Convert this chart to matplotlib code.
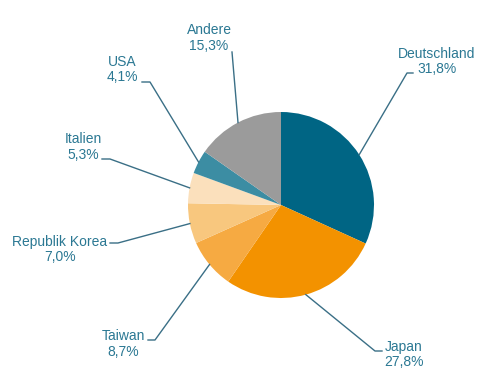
import numpy as np
import matplotlib.pyplot as plt

plt.rcParams['font.family'] = ['Liberation Sans', 'DejaVu Sans']

# Data
labels = ['Deutschland', 'Japan', 'Taiwan', 'Republik Korea', 'Italien', 'USA', 'Andere']
shares = [31.8, 27.8, 8.7, 7.0, 5.3, 4.1, 15.3]
colors = ['#006584', '#f39200', '#f6aa42', '#f8c77e', '#fbe0bc', '#3c8da3', '#9b9b9b']

# Label layout in pixel coords: text centre, end of short horizontal, elbow
text_pos = [(437, 61.5), (404, 354.5), (123, 344), (60, 249.5), (83, 147), (122, 69.5), (209, 38)]
hor_end = [(413, 73), (382, 351), (148, 340), (110, 243), (102, 159), (142, 82), (232, 52)]
elbow = [(407, 73), (375, 351), (155, 340), (118, 243), (110, 159), (150, 82), (232, 52)]

W, H = 490, 385
cx, cy, r = 281, 205, 93
text_color = '#2b7893'
line_color = '#3a6f86'

fig = plt.figure(figsize=(4.9, 3.85), dpi=100)
ax = fig.add_axes([0, 0, 1, 1])
ax.set_xlim(0, W)
ax.set_ylim(0, H)
ax.axis('off')

wedges, _ = ax.pie(shares, colors=colors, startangle=90, counterclock=False,
                   center=(cx, H - cy), radius=r, wedgeprops=dict(linewidth=0),
                   frame=True)
ax.set_xlim(0, W)
ax.set_ylim(0, H)
ax.set_aspect('equal')
ax.axis('off')

for w, lab, val, tp, he, el in zip(wedges, labels, shares, text_pos, hor_end, elbow):
    mid = np.deg2rad((w.theta1 + w.theta2) / 2)
    ex = cx + r * np.cos(mid)
    ey = (H - cy) + r * np.sin(mid)
    ax.plot([he[0], el[0], ex], [H - he[1], H - el[1], ey], color=line_color, lw=1)
    txt = '{}\n{}%'.format(lab, ('%.1f' % val).replace('.', ','))
    ax.text(tp[0], H - tp[1], txt, ha='center', va='center', fontsize=10,
            color=text_color, linespacing=1.15)

fig.savefig('out.png', dpi=100, facecolor='white')
